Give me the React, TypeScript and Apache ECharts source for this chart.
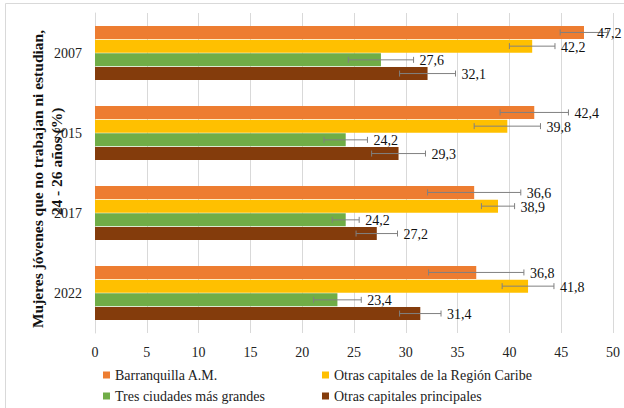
import React, { useEffect, useRef } from "react";
import * as echarts from "echarts";

const years = ["2007", "2015", "2017", "2022"];
const seriesNames = [
  "Barranquilla A.M.",
  "Otras capitales de la Región Caribe",
  "Tres ciudades más grandes",
  "Otras capitales principales",
];
const barranquilla = [47.2, 42.4, 36.6, 36.8];
const caribe = [42.2, 39.8, 38.9, 41.8];
const tresCiudades = [27.6, 24.2, 24.2, 23.4];
const principales = [32.1, 29.3, 27.2, 31.4];
// half-width of the error bars (percentage points)
const errBarranquilla = [2.3, 3.3, 4.5, 4.6];
const errCaribe = [2.2, 3.2, 1.6, 2.5];
const errTres = [3.15, 2.1, 1.3, 2.3];
const errPrincipales = [2.7, 2.6, 2.0, 2.0];
const xTicks = { min: 0, max: 50, interval: 5 };

const colors = ["#ED7D31", "#FFC000", "#70AD47", "#843C0C"];
const FONT = "'Liberation Serif', 'Times New Roman', serif";

export default function App() {
  const ref = useRef<HTMLDivElement>(null);
  useEffect(() => {
    if (!ref.current) return;
    const chart = echarts.init(ref.current, null, { renderer: "svg" });
    const values = [barranquilla, caribe, tresCiudades, principales];
    const errors = [errBarranquilla, errCaribe, errTres, errPrincipales];
    const barWidth = 13;
    const pitch = 13.7;
    const fmt = (v: number) => v.toFixed(1).replace(".", ",");

    const barSeries = values.map((vals, s) => ({
      name: seriesNames[s],
      type: "bar",
      data: vals,
      barWidth,
      barGap: "5%",
      itemStyle: { color: colors[s] },
      z: 2,
    }));

    const errSeries = values.map((vals, s) => ({
      name: "err" + s,
      type: "custom",
      z: 5,
      data: vals.map((v, i) => [i, v - errors[s][i], v + errors[s][i], v]),
      renderItem: (params: any, api: any) => {
        const cat = api.value(0);
        const low = api.value(1);
        const high = api.value(2);
        const val = api.value(3);
        const c = api.coord([val, cat]);
        const y = c[1] + (s - 1.5) * pitch;
        const xl = api.coord([low, cat])[0];
        const xh = api.coord([high, cat])[0];
        const st = { stroke: "#808080", lineWidth: 1 };
        const lx = Math.min(xh + 6, 597);
        return {
          type: "group",
          children: [
            { type: "line", shape: { x1: xl, y1: y, x2: xh, y2: y }, style: st },
            { type: "line", shape: { x1: xl, y1: y - 3, x2: xl, y2: y + 3 }, style: st },
            { type: "line", shape: { x1: xh, y1: y - 3, x2: xh, y2: y + 3 }, style: st },
            {
              type: "text",
              x: lx,
              y: y + 1,
              z2: 10,
              style: {
                text: fmt(val),
                fill: "#111",
                fontSize: 14,
                fontFamily: FONT,
                align: "left",
                verticalAlign: "middle",
              },
            },
          ],
        };
      },
    }));

    const legendBase = {
      orient: "vertical",
      top: 367,
      padding: 0,
      height: 50,
      itemWidth: 7,
      itemHeight: 7,
      itemGap: 5,
      icon: "rect",
      textStyle: { color: "#222", fontSize: 14, fontFamily: FONT, lineHeight: 16 },
    };

    chart.setOption({
      animation: false,
      backgroundColor: "#fff",
      grid: { left: 95, right: 11, top: 13, bottom: 75, containLabel: false },
      xAxis: {
        type: "value",
        min: xTicks.min,
        max: xTicks.max,
        interval: xTicks.interval,
        axisLine: { show: false },
        axisTick: { show: false },
        splitLine: { lineStyle: { color: "#d9d9d9", width: 1 } },
        axisLabel: { color: "#222", fontSize: 14, fontFamily: FONT, margin: 12 },
      },
      yAxis: {
        type: "category",
        data: years,
        inverse: true,
        axisLine: { show: true, lineStyle: { color: "#d9d9d9" } },
        axisTick: { show: false },
        axisLabel: { color: "#222", fontSize: 14, fontFamily: FONT, margin: 13 },
      },
      legend: [
        { ...legendBase, data: [seriesNames[0], seriesNames[2]], left: 103 },
        { ...legendBase, data: [seriesNames[1], seriesNames[3]], left: 322 },
      ],
      graphic: [
        {
          type: "rect",
          shape: { x: 5.5, y: 3.5, width: 640, height: 420 },
          style: { fill: "none", stroke: "#d9d9d9", lineWidth: 1 },
          silent: true,
        },
        {
          type: "text",
          x: 37,
          y: 179,
          rotation: Math.PI / 2,
          style: {
            text: "Mujeres jóvenes que no trabajan ni estudian,",
            fill: "#111",
            fontSize: 15.5,
            fontWeight: "bold",
            fontFamily: FONT,
            align: "center",
            verticalAlign: "middle",
          },
        },
        {
          type: "text",
          x: 56,
          y: 161.5,
          rotation: Math.PI / 2,
          style: {
            text: "24 - 26 años (%)",
            fill: "#111",
            fontSize: 15.5,
            fontWeight: "bold",
            fontFamily: FONT,
            align: "center",
            verticalAlign: "middle",
          },
        },
      ],
      series: [...barSeries, ...errSeries],
    });
    return () => chart.dispose();
  }, []);
  return (
    <div
      ref={ref}
      style={{ position: "fixed", left: 0, top: 0, width: 624, height: 408 }}
    />
  );
}
